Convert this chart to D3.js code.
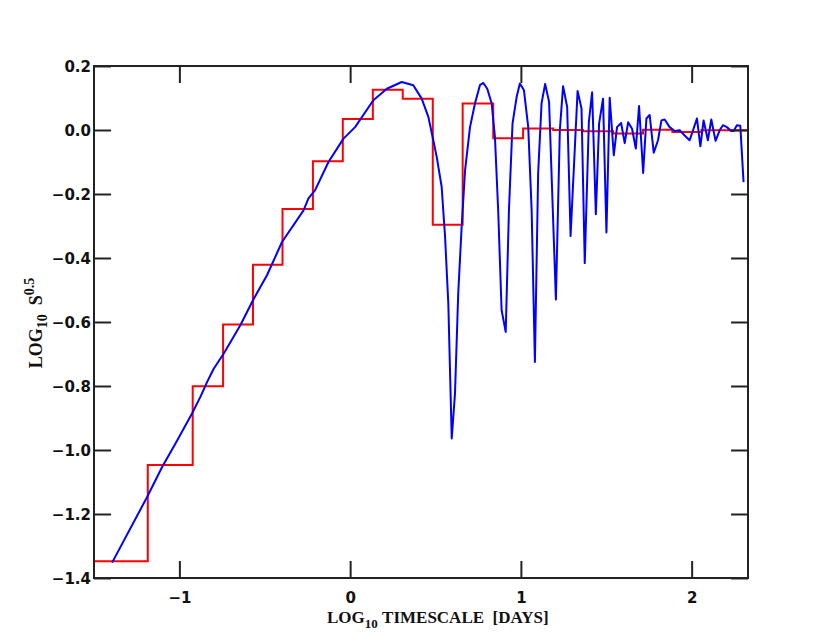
<!DOCTYPE html>
<html>
<head>
<meta charset="utf-8">
<script src="https://cdn.jsdelivr.net/npm/d3@7"></script>
<style>
  html, body { margin: 0; padding: 0; background: #fff; }
  svg { display: block; }
</style>
</head>
<body>
<script>
// ---- data ----
const xTicks = [-1, 0, 1, 2];
const xTickLabels = ["\u22121", "0", "1", "2"];
const yTicks = [-1.4, -1.2, -1.0, -0.8, -0.6, -0.4, -0.2, 0.0, 0.2];
const yTickLabels = ["\u22121.4", "\u22121.2", "\u22121.0", "\u22120.8", "\u22120.6", "\u22120.4", "\u22120.2", "0.0", "0.2"];

// red binned (step) series: bin edges and one value per bin
const binEdges = [-1.5, -1.185, -0.922, -0.744, -0.569, -0.396, -0.218, -0.043, 0.133, 0.308,
                  0.484, 0.659, 0.838, 1.013, 1.189, 1.364, 1.540, 1.715, 1.887, 2.057, 2.33];
const binValues = [-1.348, -1.047, -0.801, -0.608, -0.421, -0.247, -0.098, 0.034, 0.126, 0.098,
                   -0.296, 0.083, -0.026, 0.005, 0.000, -0.004, -0.011, 0.001, -0.006, -0.001];

// blue continuous series
const blueX = [-1.394, -1.189, -1.101, -1.013, -0.926, -0.877, -0.838, -0.799, -0.741, -0.643,
               -0.569, -0.487, -0.399, -0.273, -0.244, -0.205, -0.127, -0.039, 0.029, 0.136,
               0.215, 0.302, 0.370, 0.419, 0.458, 0.487, 0.507, 0.536, 0.556, 0.575,
               0.595, 0.614, 0.633, 0.653, 0.673, 0.702, 0.731, 0.760, 0.780, 0.803,
               0.829, 0.848, 0.867, 0.887, 0.911, 0.930, 0.951, 0.975, 0.994, 1.018,
               1.043, 1.063, 1.082, 1.101, 1.121, 1.142, 1.165, 1.205, 1.228, 1.247,
               1.271, 1.291, 1.332, 1.355, 1.374, 1.398, 1.417, 1.439, 1.458, 1.481,
               1.501, 1.520, 1.544, 1.563, 1.587, 1.608, 1.628, 1.651, 1.673, 1.692,
               1.716, 1.735, 1.754, 1.778, 1.803, 1.823, 1.842, 1.871, 1.901, 1.930,
               1.959, 1.988, 2.008, 2.031, 2.051, 2.070, 2.095, 2.115, 2.140, 2.164,
               2.183, 2.206, 2.232, 2.246, 2.265, 2.285, 2.304];
const blueY = [-1.352, -1.147, -1.053, -0.970, -0.886, -0.834, -0.788, -0.746, -0.699, -0.610,
               -0.532, -0.454, -0.350, -0.251, -0.214, -0.188, -0.100, -0.027, 0.009, 0.093,
               0.129, 0.150, 0.140, 0.098, 0.041, -0.032, -0.084, -0.178, -0.334, -0.543,
               -0.964, -0.824, -0.511, -0.303, -0.126, 0.009, 0.083, 0.140, 0.147, 0.129,
               0.083, -0.022, -0.251, -0.563, -0.631, -0.251, 0.020, 0.103, 0.145, 0.124,
               0.009, -0.251, -0.725, -0.136, 0.083, 0.144, 0.088, -0.530, -0.001, 0.137,
               0.072, -0.331, 0.122, 0.067, -0.416, 0.025, 0.118, -0.263, 0.020, 0.098,
               -0.320, 0.101, -0.079, 0.009, 0.022, -0.041, 0.024, 0.004, -0.058, 0.075,
               -0.134, 0.036, 0.047, -0.071, -0.032, 0.030, 0.033, 0.009, -0.003, -0.001,
               -0.017, -0.032, -0.001, 0.036, -0.051, 0.030, -0.032, 0.033, -0.034, -0.001,
               0.015, 0.009, -0.003, -0.003, 0.015, 0.013, -0.163];

// ---- layout ----
const W = 830, H = 642;
const M = { left: 94, right: 748, top: 66, bottom: 578 };
const tickLen = 17;
const axisColor = "#222";

const svg = d3.select("body").append("svg").attr("width", W).attr("height", H);
svg.append("rect").attr("width", W).attr("height", H).attr("fill", "#fff");

const x = d3.scaleLinear().domain([-1.5, 2.33]).range([M.left, M.right]);
const y = d3.scaleLinear().domain([-1.4, 0.2]).range([M.bottom, M.top]);

svg.append("defs").append("clipPath").attr("id", "clip")
  .append("rect").attr("x", M.left).attr("y", M.top)
  .attr("width", M.right - M.left).attr("height", M.bottom - M.top);

const plot = svg.append("g").attr("clip-path", "url(#clip)");

// red step
const stepPts = binValues.map((v, i) => [binEdges[i], v]);
stepPts.push([binEdges[binEdges.length - 1], binValues[binValues.length - 1]]);
plot.append("path")
  .datum(stepPts)
  .attr("fill", "none").attr("stroke", "#ff0000").attr("stroke-width", 2)
  .attr("d", d3.line().x(d => x(d[0])).y(d => y(d[1])).curve(d3.curveStepAfter));

// blue line
const bluePts = blueX.map((v, i) => [v, blueY[i]]);
plot.append("path")
  .datum(bluePts)
  .attr("fill", "none").attr("stroke", "#0000ff").attr("stroke-width", 2)
  .attr("stroke-linejoin", "round")
  .attr("d", d3.line().x(d => x(d[0])).y(d => y(d[1])));

// axes: ticks inward on all four sides
function styleAxis(g) {
  g.select(".domain").remove();
  g.selectAll(".tick line").attr("stroke", axisColor).attr("stroke-width", 2);
}
const fontTick = "'DejaVu Sans', sans-serif";

svg.append("g").attr("transform", `translate(0,${M.bottom})`)
  .call(d3.axisBottom(x).tickValues(xTicks).tickSizeInner(-tickLen).tickSizeOuter(0)
        .tickFormat((d, i) => xTickLabels[i]))
  .call(styleAxis)
  .call(g => g.selectAll(".tick text").attr("y", 25).attr("dy", 0)
        .attr("font-family", fontTick).attr("font-weight", "bold").attr("font-size", 15).attr("fill", "#111"));

svg.append("g").attr("transform", `translate(0,${M.top})`)
  .call(d3.axisTop(x).tickValues(xTicks).tickSizeInner(-tickLen).tickSizeOuter(0).tickFormat(""))
  .call(styleAxis);

svg.append("g").attr("transform", `translate(${M.left},0)`)
  .call(d3.axisLeft(y).tickValues(yTicks).tickSizeInner(-tickLen).tickSizeOuter(0)
        .tickFormat((d, i) => yTickLabels[i]))
  .call(styleAxis)
  .call(g => g.selectAll(".tick text").attr("x", -3).attr("dy", "0.36em")
        .attr("font-family", fontTick).attr("font-weight", "bold").attr("font-size", 15).attr("fill", "#111"));

svg.append("g").attr("transform", `translate(${M.right},0)`)
  .call(d3.axisRight(y).tickValues(yTicks).tickSizeInner(-tickLen).tickSizeOuter(0).tickFormat(""))
  .call(styleAxis);

// frame
svg.append("rect").attr("x", M.left).attr("y", M.top)
  .attr("width", M.right - M.left).attr("height", M.bottom - M.top)
  .attr("fill", "none").attr("stroke", axisColor).attr("stroke-width", 2);

// axis titles
const fontTitle = "'Liberation Serif', 'Times New Roman', serif";
const xt = svg.append("text").attr("x", 327).attr("y", 623)
  .attr("font-family", fontTitle).attr("font-weight", "bold").attr("font-size", 17).attr("fill", "#111");
xt.append("tspan").text("LOG");
xt.append("tspan").attr("font-size", 13).attr("dy", 5).text("10");
xt.append("tspan").attr("dy", -5).text("\u00a0TIMESCALE\u00a0\u00a0[DAYS]");

const yt = svg.append("text").attr("transform", "translate(42,323) rotate(-90)")
  .attr("text-anchor", "middle")
  .attr("font-family", fontTitle).attr("font-weight", "bold").attr("font-size", 18).attr("fill", "#111");
yt.append("tspan").text("LOG");
yt.append("tspan").attr("font-size", 14).attr("dy", 5).text("10");
yt.append("tspan").attr("dy", -5).text("\u00a0\u00a0S");
yt.append("tspan").attr("font-size", 14).attr("dy", -8).text("0.5");
</script>
</body>
</html>
